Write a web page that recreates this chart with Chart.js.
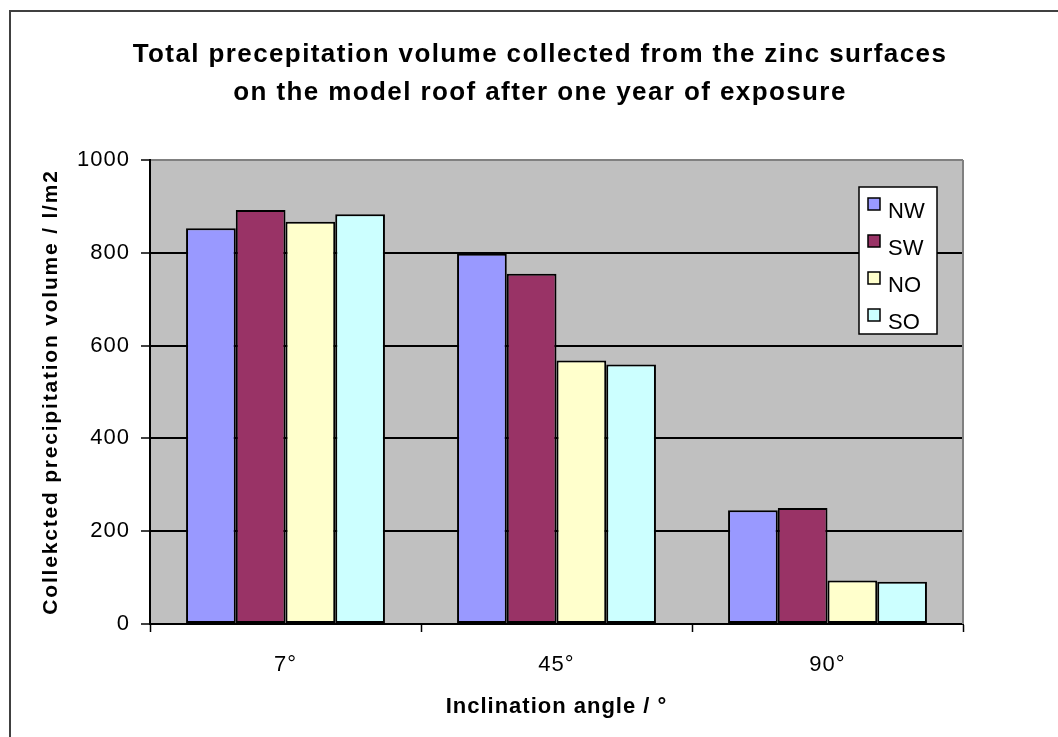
<!DOCTYPE html>
<html>
<head>
<meta charset="utf-8">
<script src="https://cdn.jsdelivr.net/npm/chart.js@4/dist/chart.umd.min.js"></script>
<style>
  html, body { margin: 0; padding: 0; background: #fff; }
  #wrap { width: 1058px; height: 737px; position: relative; }
</style>
</head>
<body>
<div id="wrap"><canvas id="c" width="1058" height="737"></canvas></div>
<script>
// Inclination angles of the zinc test surfaces
const categories = ['7°', '45°', '90°'];

// Orientation series (l/m2 collected over one year)
const seriesNames = ['NW', 'SW', 'NO', 'SO'];
const valuesNW = [853, 798, 245];
const valuesSW = [892, 755, 250];
const valuesNO = [867, 568, 94];
const valuesSO = [883, 559, 91];

const seriesColors = ['#9999ff', '#993366', '#ffffcc', '#ccffff'];

const titleLines = [
  'Total precepitation volume collected from the zinc surfaces',
  'on the model roof after one year of exposure'
];
const yTitle = 'Collekcted precipitation volume / l/m2';
const xTitle = 'Inclination angle / °';

const FONT = '"Liberation Sans", Arial, sans-serif';
Chart.defaults.font.family = FONT;
Chart.defaults.color = '#000';

const seriesValues = [valuesNW, valuesSW, valuesNO, valuesSO];

// Grey plot background, outer frame, right plot edge
const framePlugin = {
  id: 'frame',
  beforeDraw(chart) {
    const { ctx, chartArea: a } = chart;
    ctx.save();
    ctx.fillStyle = '#fff';
    ctx.fillRect(0, 0, chart.width, chart.height);
    ctx.strokeStyle = '#404040';
    ctx.lineWidth = 2;
    ctx.strokeRect(10, 11, chart.width + 50, chart.height + 50);
    ctx.fillStyle = '#c0c0c0';
    ctx.fillRect(a.left, a.top, a.right - a.left, a.bottom - a.top);
    ctx.restore();
    // slightly spaced lettering for all axis text
    ctx.letterSpacing = '1px';
  },
  afterDatasetsDraw(chart) {
    const { ctx, chartArea: a } = chart;
    ctx.save();
    ctx.strokeStyle = '#808080';
    ctx.lineWidth = 2;
    ctx.beginPath();
    ctx.moveTo(a.right, a.top);
    ctx.lineTo(a.right, a.bottom);
    ctx.stroke();
    ctx.restore();
  }
};

// Two-line bold heading and the rotated value-axis caption
const headingPlugin = {
  id: 'heading',
  afterDraw(chart) {
    const { ctx, chartArea: a } = chart;
    ctx.save();
    ctx.fillStyle = '#000';
    ctx.letterSpacing = '1.4px';
    ctx.font = 'bold 26px ' + FONT;
    ctx.textAlign = 'center';
    ctx.textBaseline = 'alphabetic';
    ctx.fillText(titleLines[0], 540, 62);
    ctx.fillText(titleLines[1], 540, 100);

    ctx.letterSpacing = '1.8px';
    ctx.font = 'bold 21px ' + FONT;
    ctx.textBaseline = 'middle';
    ctx.translate(51, (a.top + a.bottom) / 2);
    ctx.rotate(-Math.PI / 2);
    ctx.fillText(yTitle, 0, 0);
    ctx.restore();
  }
};

// Boxed legend inside the plot, built from the datasets
const boxLegendPlugin = {
  id: 'boxLegend',
  afterDraw(chart) {
    const { ctx } = chart;
    const x = 859, y = 187, w = 78, h = 147;
    ctx.save();
    ctx.letterSpacing = '0px';
    ctx.fillStyle = '#fff';
    ctx.fillRect(x, y, w, h);
    ctx.strokeStyle = '#000';
    ctx.lineWidth = 1.5;
    ctx.strokeRect(x, y, w, h);
    ctx.font = '22px ' + FONT;
    ctx.textBaseline = 'alphabetic';
    ctx.textAlign = 'left';
    chart.data.datasets.forEach((ds, i) => {
      const cy = 204 + i * 37;
      ctx.fillStyle = ds.backgroundColor;
      ctx.fillRect(868, cy - 6, 12, 12);
      ctx.strokeStyle = '#000';
      ctx.lineWidth = 1.5;
      ctx.strokeRect(868, cy - 6, 12, 12);
      ctx.fillStyle = '#000';
      ctx.fillText(ds.label, 888, cy + 14);
    });
    ctx.restore();
  }
};

new Chart(document.getElementById('c'), {
  type: 'bar',
  data: {
    labels: categories,
    datasets: seriesNames.map((name, i) => ({
      label: name,
      data: seriesValues[i],
      backgroundColor: seriesColors[i],
      borderColor: '#000',
      borderWidth: 2,
      borderSkipped: false,
      categoryPercentage: 0.734,
      barPercentage: 1.0
    }))
  },
  options: {
    responsive: false,
    animation: false,
    devicePixelRatio: 1,
    layout: { padding: { top: 160, right: 95, bottom: 0, left: 0 } },
    plugins: {
      legend: { display: false },
      title: { display: false },
      tooltip: { enabled: false }
    },
    scales: {
      x: {
        offset: true,
        grid: {
          offset: true,
          drawOnChartArea: false,
          drawTicks: true,
          tickLength: 8,
          tickColor: '#000',
          tickWidth: 1.5
        },
        border: { color: '#000', width: 2 },
        ticks: { font: { size: 22 }, padding: 20, color: '#000' },
        title: {
          display: true,
          text: xTitle,
          font: { size: 22, weight: 'bold' },
          padding: { top: 0, bottom: 17 },
          color: '#000'
        },
        afterFit(scale) { scale.height = 113; }
      },
      y: {
        min: 0,
        max: 1000,
        ticks: {
          stepSize: 200,
          font: { size: 22 },
          padding: 11,
          color: '#000',
          callback: (v) => String(v)
        },
        grid: {
          color: (c) => (c.tick && c.tick.value === 1000 ? '#808080' : '#000'),
          lineWidth: 2,
          tickColor: '#000',
          tickLength: 9,
          tickWidth: 1.5
        },
        border: { color: '#000', width: 2 },
        title: { display: false },
        afterFit(scale) { scale.width = 150; }
      }
    }
  },
  plugins: [framePlugin, headingPlugin, boxLegendPlugin]
});
</script>
</body>
</html>
